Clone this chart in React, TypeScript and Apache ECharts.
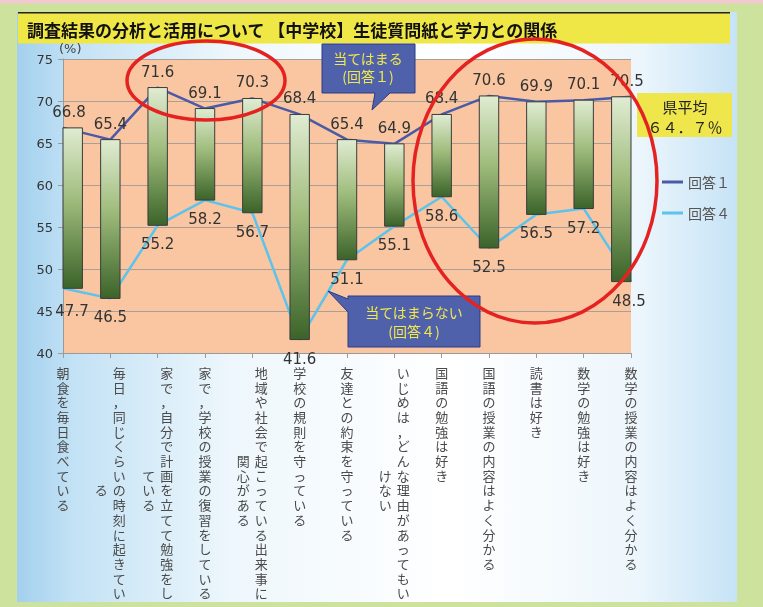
import React, { useEffect, useRef } from "react";
import * as echarts from "echarts";

const categories = [
  "朝食を毎日食べている",
  "毎日，同じくらいの時刻に起きている",
  "家で，自分で計画を立てて勉強をしている",
  "家で，学校の授業の復習をしている",
  "地域や社会で起こっている出来事に関心がある",
  "学校の規則を守っている",
  "友達との約束を守っている",
  "いじめは，どんな理由があってもいけない",
  "国語の勉強は好き",
  "国語の授業の内容はよく分かる",
  "読書は好き",
  "数学の勉強は好き",
  "数学の授業の内容はよく分かる",
];
const answer1 = [66.8, 65.4, 71.6, 69.1, 70.3, 68.4, 65.4, 64.9, 68.4, 70.6, 69.9, 70.1, 70.5];
const answer4 = [47.7, 46.5, 55.2, 58.2, 56.7, 41.6, 51.1, 55.1, 58.6, 52.5, 56.5, 57.2, 48.5];
const seriesNames = ["回答１", "回答４"];
const yMin = 40;
const yMax = 75;
const yInterval = 5;

const CJK = '"Noto Sans CJK JP", "Noto Sans CJK SC", sans-serif';
const NUM = '"DejaVu Sans", Verdana, sans-serif';
const COL_LEN = 16;

function xLabelFormatter(value: string) {
  const chars = Array.from(value);
  const col1 = chars.slice(0, COL_LEN);
  const col2 = chars.slice(COL_LEN);
  if (col2.length === 0) return col1.map((c) => `{c|${c}}`).join("\n");
  const start = Math.round((COL_LEN - col2.length) / 2);
  return col1
    .map((c, i) => {
      const l = col2[i - start] ?? "　";
      return `{c|${l}}{g| }{c|${c}}`;
    })
    .join("\n");
}

export default function App() {
  const ref = useRef<HTMLDivElement>(null);
  useEffect(() => {
    if (!ref.current) return;
    const chart = echarts.init(ref.current, null, { renderer: "svg" });
    const barGradient = new echarts.graphic.LinearGradient(0, 0, 0, 1, [
      { offset: 0, color: "#e0ecd2" },
      { offset: 0.45, color: "#9fbc7c" },
      { offset: 1, color: "#3b6329" },
    ]);
    const panelGradient = new echarts.graphic.LinearGradient(0, 0, 1, 0, [
      { offset: 0, color: "#a3d0ee" },
      { offset: 0.08, color: "#c3e2f5" },
      { offset: 0.3, color: "#eef7fc" },
      { offset: 0.6, color: "#ffffff" },
      { offset: 0.86, color: "#edf6fc" },
      { offset: 1, color: "#c6e3f6" },
    ]);
    const n = categories.length;
    const lastIdx = n - 1;
    const line1Data = answer1.map((v, i) =>
      i === 0 ? { value: v, label: { offset: [6, 0] } } : i === lastIdx ? { value: v, label: { offset: [-4, 0] } } : v
    );
    const line4Data = answer4.map((v, i) =>
      i === 0 ? { value: v, label: { offset: [9, 4] } } : i === lastIdx ? { value: v, label: { offset: [-2, 0] } } : v
    );
    const rangeData = categories.map((_, i) => [i, answer4[i], answer1[i]]);

    const calloutStyle = { fill: "#5061ac", stroke: "#2c3a85", lineWidth: 1 };
    const calloutText = { fill: "#f3e84b", font: `14px ${CJK}`, align: "center", verticalAlign: "middle" };

    chart.setOption({
      animation: false,
      textStyle: { fontFamily: NUM },
      grid: {
        left: 63,
        right: 132,
        top: 59,
        bottom: 254,
        show: true,
        backgroundColor: "#f9c6a1",
        borderWidth: 0,
        containLabel: false,
      },
      legend: {
        data: seriesNames.map((name) => ({ name, icon: "rect" })),
        orient: "vertical",
        left: 657,
        top: 170,
        itemWidth: 21,
        itemHeight: 3,
        itemGap: 17,
        textStyle: { fontFamily: CJK, fontSize: 14, color: "#555" },
      },
      xAxis: {
        type: "category",
        data: categories,
        boundaryGap: false,
        axisLine: { lineStyle: { color: "#9a9a9a" } },
        axisTick: { show: true, length: 5, lineStyle: { color: "#9a9a9a" } },
        axisLabel: {
          interval: 0,
          margin: 12,
          verticalAlign: "top",
          formatter: xLabelFormatter,
          rich: {
            c: { width: 14, align: "center", fontSize: 13, lineHeight: 14.7, fontFamily: CJK, color: "#4a4a4a" },
            g: { width: 4, fontSize: 13, lineHeight: 14.7 },
          },
        },
      },
      yAxis: {
        type: "value",
        min: yMin,
        max: yMax,
        interval: yInterval,
        name: "(%)",
        nameLocation: "end",
        nameGap: 4,
        nameTextStyle: { fontSize: 13, color: "#444", align: "left", verticalAlign: "bottom", padding: [0, 0, 0, -4], fontFamily: NUM },
        axisLine: { show: true, lineStyle: { color: "#9a9a9a" } },
        axisTick: { show: true, length: 5, lineStyle: { color: "#9a9a9a" } },
        axisLabel: { fontSize: 13, color: "#333", margin: 10, fontFamily: NUM },
        splitLine: { lineStyle: { color: "#a89f98", width: 1 } },
      },
      series: [
        {
          name: seriesNames[0],
          type: "line",
          data: line1Data,
          symbol: "circle",
          symbolSize: 1,
          showSymbol: true,
          itemStyle: { color: "#4a5aa8" },
          lineStyle: { color: "#4a5aa8", width: 2.5 },
          label: { show: true, position: "top", distance: 8, fontSize: 15, color: "#333", fontFamily: NUM },
          z: 2,
        },
        {
          name: seriesNames[1],
          type: "line",
          data: line4Data,
          symbol: "circle",
          symbolSize: 1,
          showSymbol: true,
          itemStyle: { color: "#5bc3ec" },
          lineStyle: { color: "#5bc3ec", width: 2.5 },
          label: { show: true, position: "bottom", distance: 11, fontSize: 15, color: "#333", fontFamily: NUM },
          z: 2,
        },
        {
          name: "range",
          type: "custom",
          data: rangeData,
          encode: { x: 0, y: [1, 2] },
          z: 3,
          renderItem: (params: any, api: any) => {
            const i = api.value(0);
            const top = api.coord([i, api.value(2)]);
            const bot = api.coord([i, api.value(1)]);
            const cs = params.coordSys;
            const w = api.size([1, 0])[0] * 0.41;
            let x = top[0] - w / 2;
            if (x < cs.x) x = cs.x;
            if (x + w > cs.x + cs.width) x = cs.x + cs.width - w;
            return {
              type: "rect",
              shape: { x, y: top[1], width: w, height: bot[1] - top[1] },
              style: { fill: barGradient, stroke: "#3b3b3b", lineWidth: 1 },
            };
          },
        },
      ],
      graphic: [
        { type: "rect", z: -20, silent: true, shape: { x: 0, y: 0, width: 763, height: 607 }, style: { fill: "#cde29d" } },
        { type: "rect", z: -19, silent: true, shape: { x: 0, y: 0, width: 763, height: 3.5 }, style: { fill: "#f2c8d1" } },
        { type: "rect", z: -18, silent: true, shape: { x: 17, y: 12, width: 720, height: 590 }, style: { fill: panelGradient } },
        { type: "rect", z: -17, silent: true, shape: { x: 18, y: 13, width: 712, height: 30.5 }, style: { fill: "#efe745" } },
        { type: "rect", z: -17, silent: true, shape: { x: 18, y: 12, width: 712, height: 1.5 }, style: { fill: "#222" } },
        {
          type: "text",
          z: -16,
          x: 27,
          y: 29,
          style: {
            text: "調査結果の分析と活用について 【中学校】生徒質問紙と学力との関係",
            font: `bold 17px ${CJK}`,
            fill: "#111",
            verticalAlign: "middle",
          },
        },
        {
          type: "polygon",
          z: 40,
          shape: { points: [[322, 44], [415, 44], [415, 93], [390, 93], [372, 110], [375, 93], [322, 93]] },
          style: calloutStyle,
        },
        { type: "text", z: 41, x: 368, y: 58, style: { ...calloutText, text: "当てはまる" } },
        { type: "text", z: 41, x: 368, y: 76, style: { ...calloutText, text: "(回答１)" } },
        {
          type: "polygon",
          z: 40,
          shape: { points: [[348, 296], [480, 296], [480, 347], [348, 347], [348, 312], [328, 291], [348, 299]] },
          style: calloutStyle,
        },
        { type: "text", z: 41, x: 414, y: 312, style: { ...calloutText, text: "当てはまらない" } },
        { type: "text", z: 41, x: 414, y: 331, style: { ...calloutText, text: "(回答４)" } },
        { type: "rect", z: 40, shape: { x: 637, y: 93, width: 95, height: 44 }, style: { fill: "#eee64a" } },
        { type: "text", z: 41, x: 685, y: 106, style: { text: "県平均", font: `15px ${CJK}`, fill: "#222", align: "center", verticalAlign: "middle" } },
        { type: "text", z: 41, x: 685, y: 126, style: { text: "６４．７％", font: `15px ${CJK}`, fill: "#222", align: "center", verticalAlign: "middle" } },
        { type: "ellipse", z: 50, shape: { cx: 206, cy: 80.5, rx: 79, ry: 39.5 }, style: { fill: "none", stroke: "#e52222", lineWidth: 3.5 } },
        { type: "ellipse", z: 50, shape: { cx: 535, cy: 181, rx: 122, ry: 142 }, style: { fill: "none", stroke: "#e52222", lineWidth: 3.5 } },
      ],
    });
    return () => chart.dispose();
  }, []);
  return <div ref={ref} style={{ position: "fixed", left: 0, top: 0, width: 763, height: 607 }} />;
}
